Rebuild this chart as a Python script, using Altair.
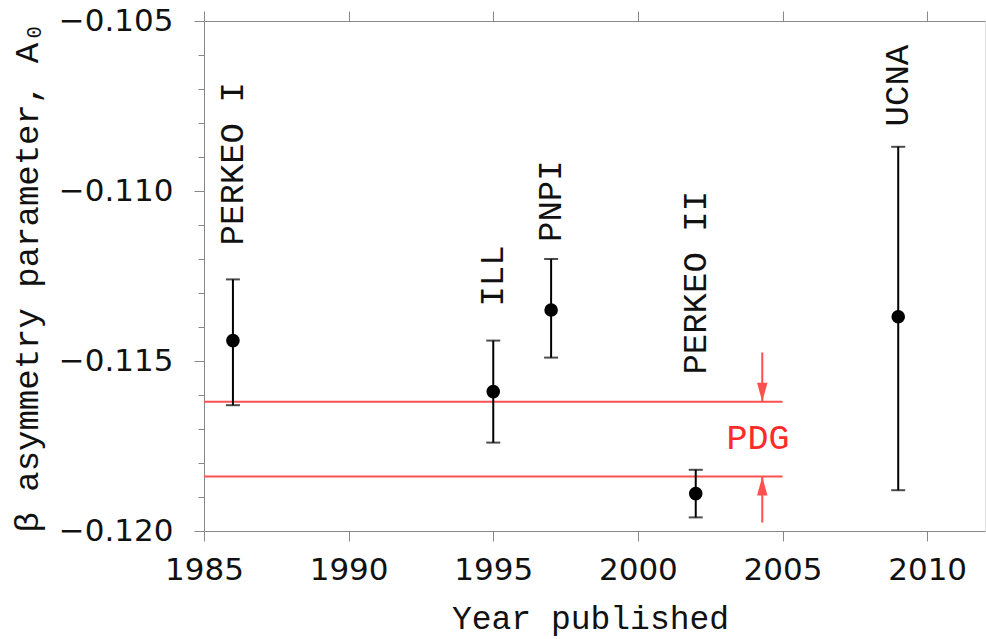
import altair as alt
import pandas as pd

# ---- data ----
experiments = ["PERKEO I", "ILL", "PNPI", "PERKEO II", "UCNA"]
years = [1986, 1995, 1997, 2002, 2009]
a0 = [-0.1144, -0.1159, -0.1135, -0.1189, -0.1137]
a0_hi = [-0.1126, -0.1144, -0.1120, -0.1182, -0.1087]
a0_lo = [-0.1163, -0.1174, -0.1149, -0.1196, -0.1188]
label_start = [-0.1116, -0.1134, -0.1115, -0.1154, -0.1081]

pdg_lines = [-0.1162, -0.1184]
pdg_x_start = [1985, 1985]
pdg_x_end = [2005, 2005]
arrow_x = [2004.3, 2004.3]
arrow_from = [-0.11475, -0.11975]
arrow_to = [-0.1162, -0.1184]
arrow_shape = ["M-0.55,-2L0.55,-2L0,0Z", "M-0.55,2L0.55,2L0,0Z"]
pdg_text_x = [2004.15]
pdg_text_y = [-0.11725]
pdg_text = ["PDG"]

x_ticks = [1985, 1990, 1995, 2000, 2005, 2010]
y_ticks = [-0.120, -0.119, -0.118, -0.117, -0.116, -0.115, -0.114, -0.113,
           -0.112, -0.111, -0.110, -0.109, -0.108, -0.107, -0.106, -0.105]

RED = "#ff5050"
AX = "#555555"
SERIF = "Liberation Mono"
SANS = "DejaVu Sans"

df = pd.DataFrame({"name": experiments, "year": years, "a0": a0,
                   "hi": a0_hi, "lo": a0_lo, "lab": label_start})
pdg = pd.DataFrame({"y": pdg_lines, "x": pdg_x_start, "x2": pdg_x_end})
arr = pd.DataFrame({"x": arrow_x, "y": arrow_from, "y2": arrow_to, "shape": arrow_shape})
ptxt = pd.DataFrame({"x": pdg_text_x, "y": pdg_text_y, "t": pdg_text})

xs = alt.Scale(domain=[1985, 2012], nice=False, zero=False)
ys = alt.Scale(domain=[-0.120, -0.105], nice=False, zero=False)

major_test = "abs(datum.value*200 - round(datum.value*200)) < 0.000001"

x_bottom = alt.Axis(values=x_ticks, format="d", orient="bottom", tickSize=10, grid=False,
                    labelFlush=False, labelOverlap=False,
                    labelPadding=14, labelFont=SANS, labelFontSize=31, labelColor="#111",
                    title="Year published", titleFont=SERIF, titleFontSize=33,
                    titleFontWeight="normal", titleColor="#111",
                    titleX=386, titleY=97, titleAlign="center", titleBaseline="alphabetic")
x_top = alt.Axis(values=x_ticks, orient="top", tickSize=10, labels=False, title=None,
                 grid=False)
y_left = alt.Axis(values=y_ticks, grid=False, labelFlush=False, labelOverlap=False,
                  labelExpr=f"({major_test}) ? format(datum.value, '.3f') : ''",
                  tickSize={"condition": {"test": major_test, "value": 10}, "value": 6},
                  labelPadding=21, labelFont=SANS, labelFontSize=31, labelColor="#111",
                  title="β asymmetry parameter, A₀", titleFont=SERIF, titleFontSize=34,
                  titleFontWeight="normal", titleColor="#111",
                  titleX=-177, titleY=256, titleAngle=270, titleAlign="center",
                  titleBaseline="middle")


def Y(field):
    return alt.Y(field, scale=ys, axis=y_left)


def X(field, axis=None):
    return alt.X(field, scale=xs, axis=axis)


base = alt.Chart(df)

pdg_rules = alt.Chart(pdg).mark_rule(color=RED, strokeWidth=2).encode(
    x=X("x:Q", x_top), x2="x2:Q", y=Y("y:Q"))

arrow_shafts = alt.Chart(arr).mark_rule(color=RED, strokeWidth=2).encode(
    x=X("x:Q"), y=Y("y:Q"), y2="y2:Q")

arrow_heads = alt.Chart(arr).mark_point(filled=True, color=RED, opacity=1, size=361,
                                        strokeWidth=0).encode(
    x=X("x:Q"), y=Y("y2:Q"), shape=alt.Shape("shape:N", scale=None))

err = base.mark_rule(color="black", strokeWidth=2).encode(
    x=X("year:Q", x_bottom), y=Y("lo:Q"), y2="hi:Q")

cap_hi = base.mark_tick(color="black", orient="horizontal", size=14, thickness=2).encode(
    x=X("year:Q"), y=Y("hi:Q"))
cap_lo = base.mark_tick(color="black", orient="horizontal", size=14, thickness=2).encode(
    x=X("year:Q"), y=Y("lo:Q"))

pts = base.mark_circle(color="black", opacity=1, size=185).encode(
    x=X("year:Q"), y=Y("a0:Q"))

labels = base.mark_text(angle=270, align="left", baseline="middle", font=SERIF,
                        fontSize=34, color="#111").encode(
    x=X("year:Q"), y=Y("lab:Q"), text="name:N")

pdg_label = alt.Chart(ptxt).mark_text(align="center", baseline="middle", font=SERIF,
                                      fontSize=35, color="#ff2a2a").encode(
    x=X("x:Q"), y=Y("y:Q"), text="t:N")

chart = alt.layer(pdg_rules, arrow_shafts, arrow_heads, err, cap_hi, cap_lo, pts,
                  labels, pdg_label).resolve_axis(x="independent").properties(
    width=781, height=510,
    autosize=alt.AutoSizeParams(type="none"),
    padding={"left": 204, "top": 21, "right": 1, "bottom": 108},
).configure_view(stroke=AX, strokeWidth=2).configure_axis(
    grid=False, domainColor=AX, domainWidth=2, tickColor=AX, tickWidth=2
).configure(background="white")

chart.save("out.html", embed_options={"renderer": "svg", "actions": False})
